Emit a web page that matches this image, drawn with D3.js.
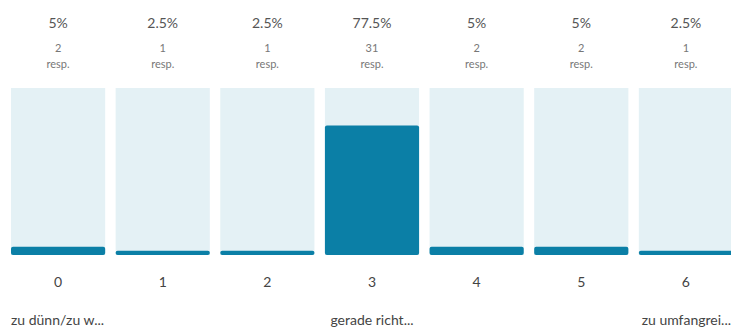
<!DOCTYPE html>
<html>
<head>
<meta charset="utf-8">
<script src="https://cdn.jsdelivr.net/npm/d3@7"></script>
<style>
  body { margin: 0; background: #fff; }
  svg { display: block; font-family: Lato, "Open Sans", sans-serif; }
</style>
</head>
<body>
<div id="chart"></div>
<script>
// Werte aus der Abbildung
const categories = ["0", "1", "2", "3", "4", "5", "6"];
const percents = [5, 2.5, 2.5, 77.5, 5, 5, 2.5];
const counts = [2, 1, 1, 31, 2, 2, 1];
const scaleLabels = ["zu dünn/zu w...", "gerade richt...", "zu umfangrei..."];

const width = 731, height = 330;
const svg = d3.select("#chart").append("svg")
  .attr("width", width)
  .attr("height", height);

const x = d3.scaleBand()
  .domain(categories)
  .range([11, 733])
  .paddingInner(0.1)
  .paddingOuter(0);

const y = d3.scaleLinear()
  .domain([0, 100])
  .range([255, 88]);

const col = svg.selectAll("g.col")
  .data(categories)
  .join("g")
  .attr("class", "col");

// Hintergrund
col.append("rect")
  .attr("x", d => x(d))
  .attr("y", y(100))
  .attr("width", x.bandwidth())
  .attr("height", y(0) - y(100))
  .attr("fill", "#e4f1f5");

// Balken
col.append("rect")
  .attr("x", d => x(d))
  .attr("y", (d, i) => y(percents[i]))
  .attr("width", x.bandwidth())
  .attr("height", (d, i) => y(0) - y(percents[i]))
  .attr("rx", 2)
  .attr("fill", "#0b7fa6");

const cx = d => x(d) + x.bandwidth() / 2;

col.append("text")
  .attr("x", cx)
  .attr("y", 28)
  .attr("text-anchor", "middle")
  .attr("font-size", 14)
  .attr("fill", "#555")
  .text((d, i) => percents[i] + "%");

col.append("text")
  .attr("x", cx)
  .attr("y", 52)
  .attr("text-anchor", "middle")
  .attr("font-size", 11)
  .attr("fill", "#777")
  .text((d, i) => counts[i]);

col.append("text")
  .attr("x", cx)
  .attr("y", 68)
  .attr("text-anchor", "middle")
  .attr("font-size", 11)
  .attr("fill", "#777")
  .text("resp.");

col.append("text")
  .attr("x", cx)
  .attr("y", 287)
  .attr("text-anchor", "middle")
  .attr("font-size", 14)
  .attr("fill", "#444")
  .text(d => d);

// Skalenbeschriftung
svg.append("text")
  .attr("x", 11)
  .attr("y", 325)
  .attr("font-size", 14)
  .attr("fill", "#444")
  .text(scaleLabels[0]);

svg.append("text")
  .attr("x", cx(categories[3]))
  .attr("y", 325)
  .attr("text-anchor", "middle")
  .attr("font-size", 14)
  .attr("fill", "#444")
  .text(scaleLabels[1]);

svg.append("text")
  .attr("x", 731)
  .attr("y", 325)
  .attr("text-anchor", "end")
  .attr("font-size", 14)
  .attr("fill", "#444")
  .text(scaleLabels[2]);
</script>
</body>
</html>
